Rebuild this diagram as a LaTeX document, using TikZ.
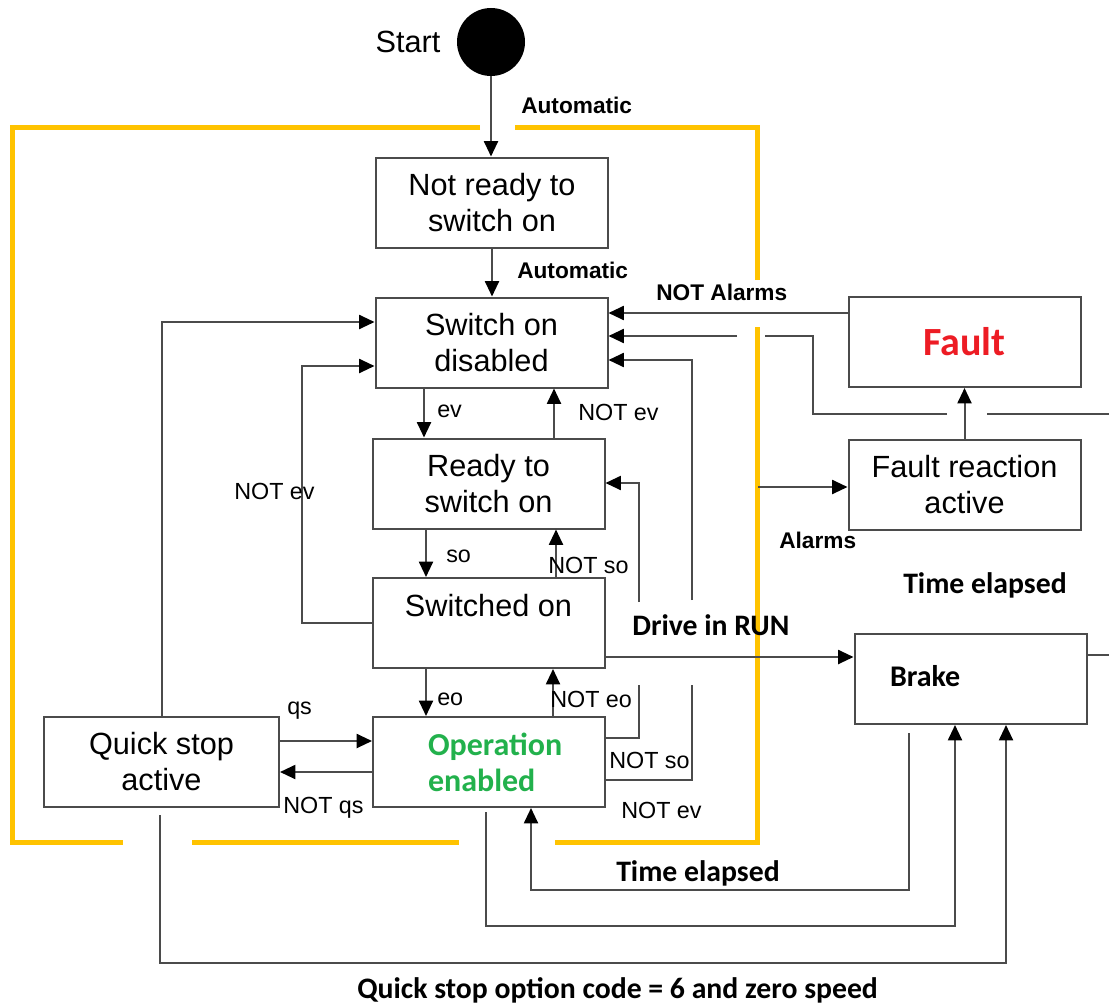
\documentclass[tikz,border=0pt]{standalone}
\usepackage{fontspec}
\setmainfont{Liberation Sans}
\newfontfamily\calfont{Carlito}
\usetikzlibrary{arrows.meta}

\definecolor{lineg}{RGB}{75,75,75}
\definecolor{gold}{RGB}{255,195,0}
\definecolor{opgreen}{RGB}{34,177,76}
\definecolor{faultred}{RGB}{237,28,36}

\begin{document}
\begin{tikzpicture}[x=0.75pt,y=-0.75pt,
  state/.style={draw=lineg, line width=1.5pt, minimum width=174pt, minimum height=67.5pt,
                align=center, inner sep=0pt, font=\fontsize{23}{27}\selectfont},
  conn/.style={draw=lineg, line width=1.5pt},
  arr/.style={conn, -{Triangle[length=11.5pt,width=10.5pt,color=black]}},
  lbl/.style={anchor=west, inner sep=0pt, font=\fontsize{17.5}{20}\selectfont},
  bold lbl/.style={lbl, font=\bfseries\fontsize{17}{20}\selectfont},
  cal lbl/.style={anchor=west, inner sep=0pt, font=\calfont\bfseries\fontsize{22.3}{26}\selectfont},
  border/.style={draw=gold, line width=3.75pt}]

\useasboundingbox (0,0) rectangle (1109,1006);

% gold frame around the normal operating states
\draw[border] (480,127) -- (12,127) -- (12,842) -- (123,842);
\draw[border] (192,842) -- (459,842);
\draw[border] (555,842) -- (757,842) -- (757,327);
\draw[border] (757,280) -- (757,127) -- (515,127);

% start point
\node[circle, fill=black, minimum size=51pt, inner sep=0pt] (start) at (491,42) {};
\node[font=\fontsize{23}{26}\selectfont, inner sep=0pt] (startlbl) at (408,42) {Start};

% states
\node[state] (nr)    at (492,202.5) {Not ready to\\switch on};
\node[state] (sod)   at (491.5,342.5) {Switch on\\disabled};
\node[state] (rdy)   at (488.5,483.5) {Ready to\\switch on};
\node[state] (swon)  at (488.5,623) {Switched on\\\mbox{}};
\node[state, text width=91.5pt, align=left, text=opgreen,
      font=\calfont\bfseries\fontsize{24}{27}\selectfont] (op) at (489,762) {Operation\\enabled};
\node[state, minimum width=176.25pt] (qs) at (161.5,762) {Quick stop\\active};
\node[state, text=faultred, font=\calfont\bfseries\fontsize{30}{34}\selectfont] (fault) at (964.5,342) {Fault};
\node[state] (frx)   at (964.5,485) {Fault reaction\\active};
\node[state, text width=120.75pt, align=left,
      font=\calfont\bfseries\fontsize{22.5}{26}\selectfont] (brake) at (970.5,679) {Brake\rule[-5pt]{0pt}{1pt}};

% start-up
\draw[arr] (start.south) -- (start.south |- nr.north);
\node[bold lbl] (l_auto1) at (521,105) {Automatic};
\draw[arr] (nr.south) -- (nr.south |- sod.north);
\node[bold lbl] (l_auto2) at (517,270) {Automatic};

% main column
\draw[arr] (sod.south -| 424,0) -- (rdy.north -| 424,0);
\node[lbl] (l_ev) at (437,411) {ev};
\draw[arr] (rdy.north -| 554,0) -- (sod.south -| 554,0);
\node[lbl] (l_notev1) at (578,412) {NOT ev};
\draw[arr] (rdy.south -| 426,0) -- (swon.north -| 426,0);
\node[lbl] (l_so) at (446,556) {so};
\draw[arr] (swon.north -| 556,0) -- (rdy.south -| 556,0);
\node[lbl] (l_notso1) at (548,565) {NOT so};
\draw[arr] (swon.south -| 426,0) -- (op.north -| 426,0);
\node[lbl] (l_eo) at (437,699) {eo};
\draw[arr] (op.north -| 553,0) -- (swon.south -| 553,0);
\node[lbl] (l_noteo) at (550,699) {NOT eo};

% switched on back to switch on disabled
\draw[arr] (swon.west) -- ++(-70,0) |- (sod.west |- 0,366);
\node[lbl] (l_notev2) at (234,491) {NOT ev};

% quick stop
\draw[arr] (qs.north) |- (sod.west |- 0,322);
\draw[arr] (qs.east |- 0,741) -- (op.west |- 0,741);
\node[lbl] (l_qs) at (287,711) {qs};
\draw[arr] (op.west |- 0,772) -- (qs.east |- 0,772);
\node[lbl] (l_notqs) at (283,808) {NOT qs};

% operation enabled back to ready / disabled
\coordinate (gapA1) at (639,685);
\coordinate (gapA2) at (639,602);
\draw[conn] (op.east |- 0,738) -| (gapA1);
\draw[arr] (gapA2) |- (rdy.east |- 0,483);
\coordinate (gapB1) at (692,685);
\coordinate (gapB2) at (692,600);
\draw[conn] (op.east |- 0,780) -| (gapB1);
\draw[arr] (gapB2) |- (sod.east |- 0,360);
\node[lbl] (l_notso2) at (609,760) {NOT so};
\node[lbl] (l_notev3) at (621,810) {NOT ev};

% fault handling
\draw[arr] (fault.west |- 0,313) -- (sod.east |- 0,313);
\node[bold lbl] (l_notal) at (656,292) {NOT Alarms};
\draw[arr] (frx.north) -- (fault.south);
\coordinate (retin) at (1109,414);
\coordinate (hopR) at (987,414);
\coordinate (hopL) at (947,414);
\coordinate (yelR) at (765,336);
\coordinate (yelL) at (737,336);
\draw[conn] (retin) -- (hopR);
\draw[conn] (hopL) -| (813,336) -- (yelR);
\draw[arr] (yelL) -- (sod.east |- yelL);
\coordinate (alarmsrc) at (758,487);
\draw[arr] (alarmsrc) -- (frx.west |- alarmsrc);
\node[bold lbl] (l_al) at (779,540) {Alarms};

% brake
\draw[arr] (swon.east |- 0,657) -- (brake.west |- 0,657);
\node[cal lbl] (l_run) at (632,625) {Drive in RUN};
\coordinate (brakeout) at (1109,655);
\draw[conn] (brake.east |- brakeout) -- (brakeout);
\node[cal lbl] (l_te1) at (903,585) {Time elapsed};

\coordinate (brkT) at (909,733);
\draw[arr] (brkT) |- (531,890) -- (op.south -| 531,0);
\node[cal lbl] (l_te2) at (616,873) {Time elapsed};
\coordinate (opB) at (486,812);
\draw[arr] (opB) |- (955,926) -- (brake.south -| 955,0);
\coordinate (qsB) at (160,815);
\draw[arr] (qsB) |- (1006,963) -- (brake.south -| 1006,0);
\node[cal lbl] (l_qso) at (357,990) {Quick stop option code = 6 and zero speed};

\end{tikzpicture}
\end{document}
